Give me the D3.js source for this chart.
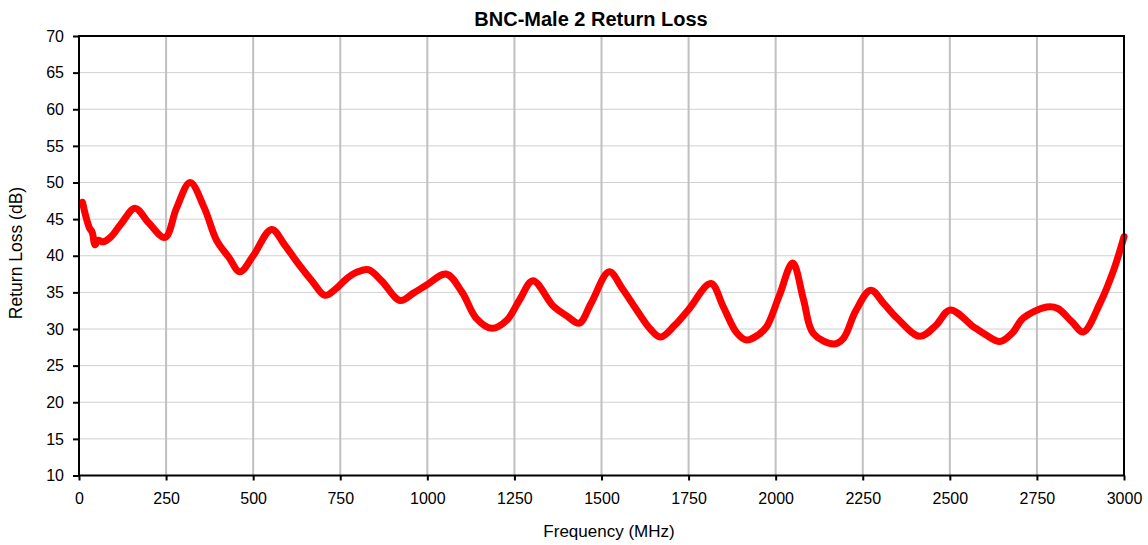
<!DOCTYPE html>
<html><head><meta charset="utf-8">
<script src="https://cdn.jsdelivr.net/npm/d3@7"></script>
<style>body{margin:0;background:#fff}svg{display:block}text{font-family:"Liberation Sans",Arial,sans-serif}</style>
</head><body><svg id="c" width="1148" height="545"></svg>
<script>
const title = "BNC-Male 2 Return Loss";
const xLabel = "Frequency (MHz)";
const yLabel = "Return Loss (dB)";
const xTicks = [0,250,500,750,1000,1250,1500,1750,2000,2250,2500,2750,3000];
const yTicks = [10,15,20,25,30,35,40,45,50,55,60,65,70];
const freq = [10,20,30,38,46,55,70,90,120,161,200,247,280,319,360,395,430,462,500,553,590,625,670,706,740,769,800,831,870,922,960,998,1054,1100,1140,1185,1228,1265,1303,1362,1400,1436,1470,1522,1560,1601,1640,1670,1710,1749,1814,1850,1888,1917,1950,1974,2010,2049,2080,2108,2166,2194,2230,2273,2310,2348,2414,2460,2501,2568,2600,2644,2680,2711,2778,2810,2850,2883,2931,2970,3000];
const rl = [47.3,45.3,43.8,43.2,41.5,42.1,41.9,42.5,44.3,46.5,44.5,42.5,46.5,50.0,46.5,42.1,39.8,37.8,40.0,43.6,41.5,39.2,36.5,34.6,35.6,36.9,37.8,38.1,36.5,33.9,34.9,36.0,37.5,35.0,31.5,30.1,31.2,34.0,36.6,33.1,31.8,30.8,33.5,37.8,35.5,32.6,30.0,28.9,30.5,32.6,36.2,33.0,29.5,28.5,29.2,30.3,34.5,39.0,34.0,29.4,27.95,28.7,32.5,35.3,33.5,31.5,29.0,30.5,32.6,30.3,29.3,28.3,29.5,31.5,33.0,32.8,31.0,29.6,33.5,38.0,42.6];

const svg = d3.select("#c");
const L=79, R=1124, T=36, B=475.5;
const x = d3.scaleLinear().domain([0,3000]).range([L,R]);
const y = d3.scaleLinear().domain([10,70]).range([B,T]);

svg.append("g").selectAll("line").data(yTicks.filter(v=>v>10&&v<70)).join("line")
  .attr("x1",L).attr("x2",R).attr("y1",d=>y(d)).attr("y2",d=>y(d))
  .attr("stroke","#d0d0d0").attr("stroke-width",1);
svg.append("g").selectAll("line").data(xTicks.filter(v=>v>0&&v<3000)).join("line")
  .attr("y1",T).attr("y2",B).attr("x1",d=>x(d)).attr("x2",d=>x(d))
  .attr("stroke","#c0c0c0").attr("stroke-width",2);

const line = d3.line().x((d,i)=>x(freq[i])).y(d=>y(d)).curve(d3.curveCatmullRom.alpha(0.5));
svg.append("path").datum(rl).attr("d",line).attr("fill","none")
  .attr("stroke","#ff0000").attr("stroke-width",7).attr("stroke-linejoin","round").attr("stroke-linecap","round");

svg.append("rect").attr("x",L).attr("y",T).attr("width",R-L).attr("height",B-T)
  .attr("fill","none").attr("stroke","#000").attr("stroke-width",2);

const xa = svg.append("g").attr("transform",`translate(0,${B})`)
  .call(d3.axisBottom(x).tickValues(xTicks).tickSize(5).tickPadding(12).tickFormat(d3.format("d")));
const ya = svg.append("g").attr("transform",`translate(${L},0)`)
  .call(d3.axisLeft(y).tickValues(yTicks).tickSize(6).tickPadding(9).tickFormat(d3.format("d")));
[xa,ya].forEach(a=>{
  a.select(".domain").remove();
  a.selectAll(".tick line").attr("stroke","#000").attr("stroke-width",2);
  a.selectAll(".tick text").attr("font-size",16).attr("fill","#000").style("font-family","'Liberation Sans',Arial,sans-serif");
});

svg.append("text").attr("x",591).attr("y",26).attr("text-anchor","middle")
  .attr("font-size",20).attr("font-weight","bold").text(title);
svg.append("text").attr("x",609).attr("y",537).attr("text-anchor","middle")
  .attr("font-size",17).text(xLabel);
svg.append("text").attr("transform","translate(22,253) rotate(-90)").attr("text-anchor","middle")
  .attr("font-size",17.5).text(yLabel);
</script></body></html>
